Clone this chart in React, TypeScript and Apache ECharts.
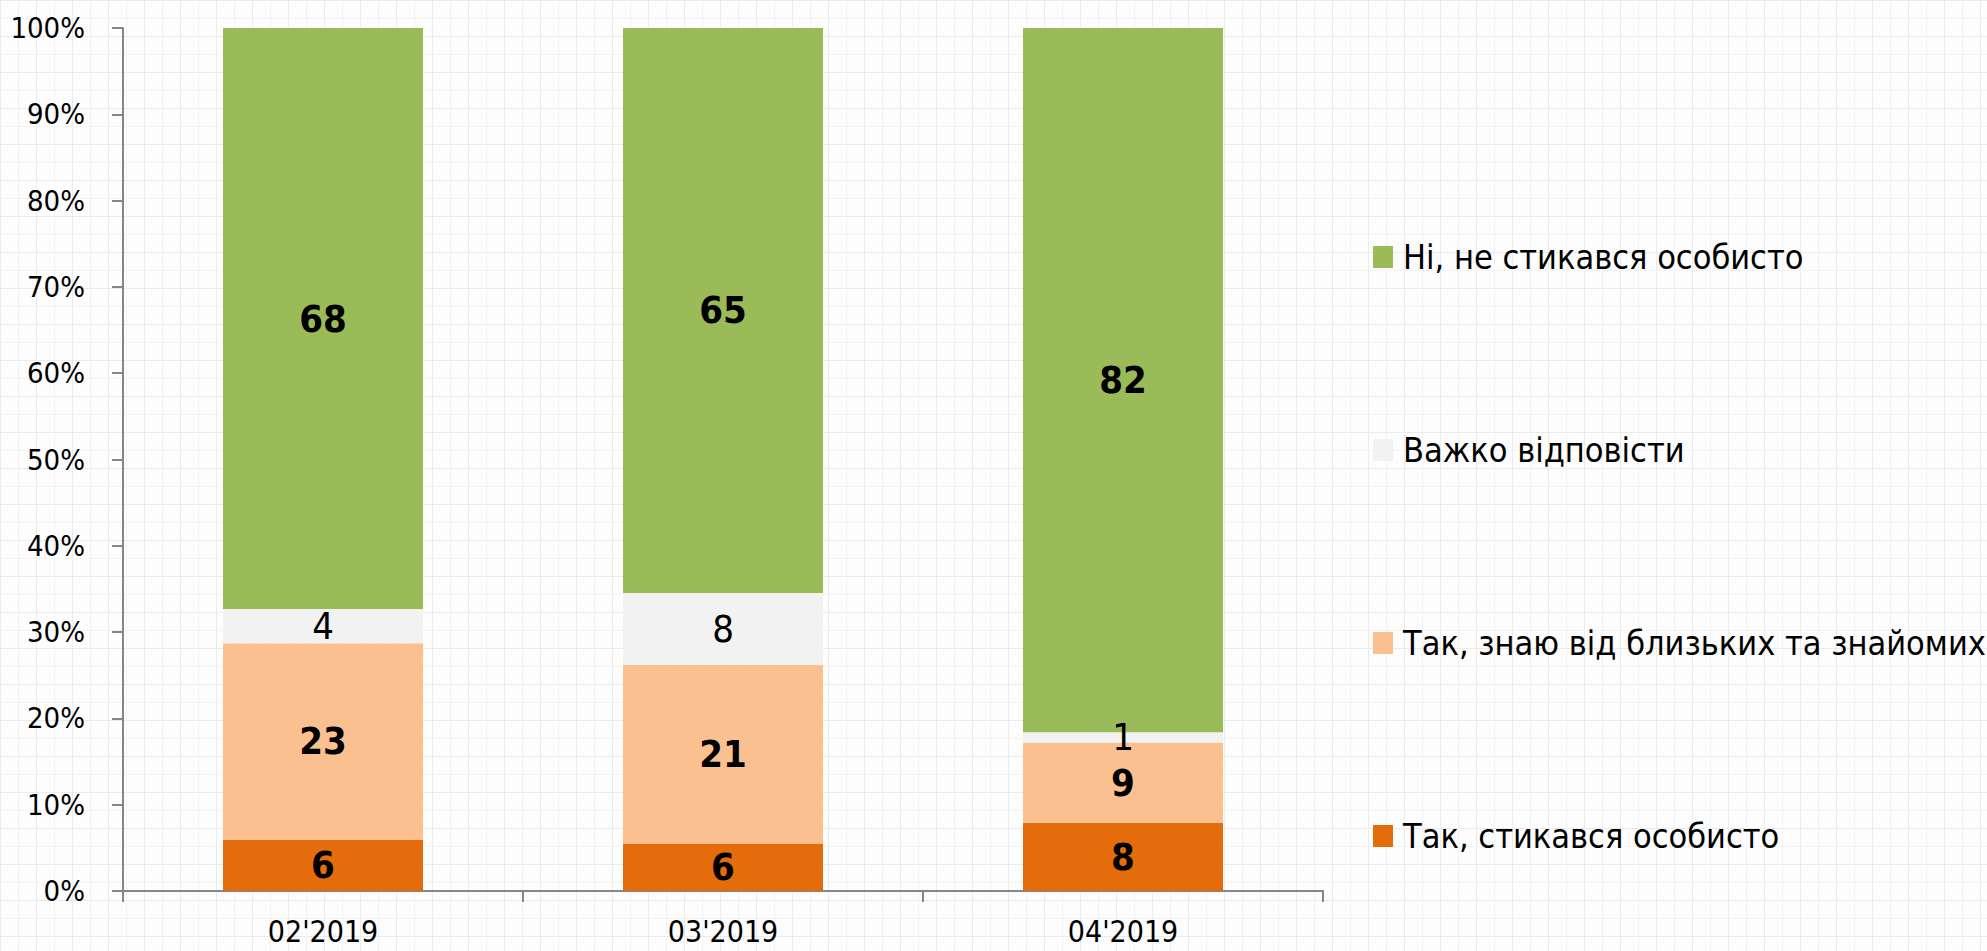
import React, { useEffect, useRef } from "react";
import * as echarts from "echarts";

const categories = ["02'2019", "03'2019", "04'2019"];
const seriesNames = [
  "Так, стикався особисто",
  "Так, знаю від близьких та знайомих",
  "Важко відповісти",
  "Ні, не стикався особисто",
];
const yesPersonal = [6, 5.5, 7.9];
const yesKnow = [23, 20.7, 9.3];
const hardToSay = [4, 8.3, 1.2];
const noPersonal = [68, 65.4, 81.6];
const yTicks = [0, 10, 20, 30, 40, 50, 60, 70, 80, 90, 100];

const colors = ["#E46C0A", "#FAC090", "#F2F2F2", "#9BBB59"];
const boldLabel = [true, true, false, true];
const FONT = "'Liberation Sans Narrow', 'Arial Narrow', 'DejaVu Sans Condensed', 'Liberation Sans', Arial, sans-serif";

const tile =
  "data:image/svg+xml," +
  encodeURIComponent(
    "<svg xmlns='http://www.w3.org/2000/svg' width='36' height='36'><rect width='36' height='36' fill='#fdfdfd'/><path d='M0 0.5H36M0.5 0V36' stroke='#ebebeb' stroke-width='1'/><path d='M0 18.5H36M18.5 0V36' stroke='#f3f3f3' stroke-width='1'/></svg>"
  );

export default function App() {
  const ref = useRef<HTMLDivElement>(null);
  useEffect(() => {
    if (!ref.current) return;
    const chart = echarts.init(ref.current, undefined, { renderer: "svg" });
    const raw = [yesPersonal, yesKnow, hardToSay, noPersonal];
    const totals = categories.map((_, i) => raw.reduce((s, arr) => s + arr[i], 0));
    chart.setOption({
      animation: false,
      backgroundColor: "transparent",
      textStyle: { fontFamily: FONT },
      grid: { left: 123, right: 664, top: 28, bottom: 60, containLabel: false },
      legend: {
        orient: "vertical",
        left: 1368,
        top: 232,
        itemWidth: 20,
        itemHeight: 22,
        itemGap: 153,
        icon: "rect",
        data: [...seriesNames].reverse(),
        textStyle: {
          fontFamily: FONT,
          fontSize: 34,
          lineHeight: 40,
          color: "#000",
          padding: [0, 0, 0, 5],
        },
      },
      xAxis: {
        type: "category",
        data: categories,
        axisLine: { lineStyle: { color: "#868686", width: 2 } },
        axisTick: { show: true, length: 11, lineStyle: { color: "#868686", width: 2 } },
        axisLabel: { fontFamily: FONT, fontSize: 30, lineHeight: 32, color: "#000", margin: 24 },
        splitLine: { show: false },
      },
      yAxis: {
        type: "value",
        min: yTicks[0],
        max: yTicks[yTicks.length - 1],
        interval: 10,
        axisLine: { show: true, lineStyle: { color: "#868686", width: 2 } },
        axisTick: { show: true, length: 11, lineStyle: { color: "#868686", width: 2 } },
        axisLabel: { fontFamily: FONT, fontSize: 29, color: "#000", margin: 38, formatter: "{value}%" },
        splitLine: { show: false },
      },
      series: seriesNames.map((name, si) => ({
        name,
        type: "bar",
        stack: "total",
        barWidth: "50%",
        itemStyle: { color: colors[si] },
        label: {
          show: true,
          position: "inside",
          fontFamily: FONT,
          fontSize: 38,
          fontWeight: boldLabel[si] ? "bold" : "normal",
          color: "#000",
          formatter: (p: any) => String(Math.round(raw[si][p.dataIndex])),
        },
        data: raw[si].map((v, i) => (v / totals[i]) * 100),
      })),
    });
    return () => chart.dispose();
  }, []);
  return (
    <div
      ref={ref}
      style={{
        position: "fixed",
        left: 0,
        top: 0,
        width: 1987,
        height: 951,
        backgroundColor: "#fdfdfd",
        backgroundImage: `url("${tile}")`,
        backgroundRepeat: "repeat",
      }}
    />
  );
}
